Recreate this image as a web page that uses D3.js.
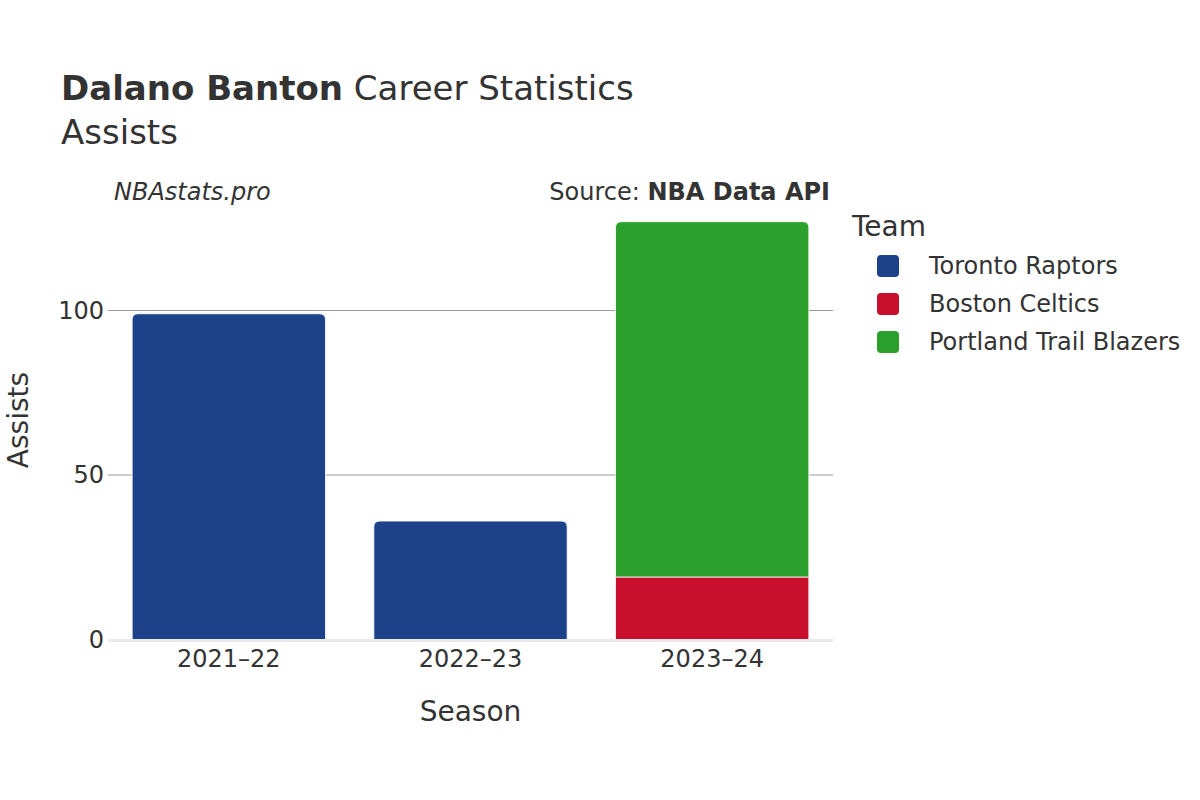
<!DOCTYPE html>
<html>
<head>
<meta charset="utf-8">
<script src="https://cdn.jsdelivr.net/npm/d3@7"></script>
<style>
  body { margin: 0; background: #fff; }
  svg { font-family: "DejaVu Sans", sans-serif; }
</style>
</head>
<body>
<svg id="chart" width="1200" height="800"></svg>
<script>
const seasons = ["2021–22", "2022–23", "2023–24"];
const teams = ["Toronto Raptors", "Boston Celtics", "Portland Trail Blazers"];
const teamColors = ["#1d428a", "#c8102e", "#2ca02c"];
const torontoValues = [99, 36, 0];
const bostonValues = [0, 0, 19];
const portlandValues = [0, 0, 108];
const yTicks = [0, 50, 100];

const svg = d3.select("#chart");
const margin = { left: 108, right: 833, top: 227, bottom: 639.5 };
const textColor = "#333";

const x = d3.scaleBand().domain(seasons).range([margin.left, margin.right]).paddingInner(0.2).paddingOuter(0.1);
const y = d3.scaleLinear().range([margin.bottom, margin.top]);
y.domain([0, 100 * (margin.bottom - margin.top) / (margin.bottom - 310.5)]);

// gridlines
const grid = svg.append("g");
yTicks.filter(d => d > 0).forEach(t => {
  grid.append("line")
    .attr("x1", margin.left).attr("x2", margin.right)
    .attr("y1", y(t)).attr("y2", y(t))
    .attr("stroke", "#999").attr("stroke-width", 1);
});

// stacked data
const series = [torontoValues, bostonValues, portlandValues];
const rows = seasons.map((s, i) => ({ season: s, v: series.map(arr => arr[i]) }));
const stack = d3.stack().keys([0, 1, 2]).value((d, k) => d.v[k]);
const stacked = stack(rows);

function roundedTopPath(x0, x1, yTop, yBot, r) {
  r = Math.min(r, (x1 - x0) / 2, (yBot - yTop));
  return `M${x0},${yBot} L${x0},${yTop + r} Q${x0},${yTop} ${x0 + r},${yTop} L${x1 - r},${yTop} Q${x1},${yTop} ${x1},${yTop + r} L${x1},${yBot} Z`;
}

const barsG = svg.append("g");
stacked.forEach((layer, k) => {
  layer.forEach((seg, i) => {
    if (seg[1] - seg[0] <= 0) return;
    const x0 = x(seasons[i]);
    const x1 = x0 + x.bandwidth();
    const yT = y(seg[1]);
    const yB = y(seg[0]);
    const total = d3.sum(rows[i].v);
    const isTop = seg[1] === total;
    barsG.append("path")
      .attr("d", roundedTopPath(x0, x1, yT, yB, isTop ? 6 : 0))
      .attr("fill", teamColors[k])
      .attr("stroke", "#fff").attr("stroke-width", 0.8);
  });
});

// zero line
svg.append("line")
  .attr("x1", margin.left).attr("x2", margin.right)
  .attr("y1", y(0) + 1).attr("y2", y(0) + 1)
  .attr("stroke", "#ebebeb").attr("stroke-width", 3);

// y axis
const yAxis = d3.axisLeft(y).tickValues(yTicks).tickSize(0).tickPadding(3);
const yg = svg.append("g").attr("transform", `translate(${margin.left - 1},0)`).call(yAxis);
yg.select(".domain").remove();
yg.selectAll("text").attr("font-size", 24).attr("fill", textColor).attr("font-family", "DejaVu Sans");

// x axis
const xAxis = d3.axisBottom(x).tickSize(0).tickPadding(10);
const xg = svg.append("g").attr("transform", `translate(0,${margin.bottom})`).call(xAxis);
xg.select(".domain").remove();
xg.selectAll("text").attr("font-size", 24).attr("fill", textColor).attr("font-family", "DejaVu Sans");

// axis titles
svg.append("text").attr("x", (margin.left + margin.right) / 2).attr("y", 721)
  .attr("text-anchor", "middle").attr("font-size", 28).attr("fill", textColor).text("Season");
svg.append("text").attr("transform", "translate(28,420) rotate(-90)")
  .attr("text-anchor", "middle").attr("font-size", 28).attr("fill", textColor).text("Assists");

// title
const title = svg.append("text").attr("x", 61).attr("y", 100).attr("font-size", 34).attr("fill", textColor);
title.append("tspan").attr("font-weight", "bold").text("Dalano Banton");
title.append("tspan").text(" Career Statistics");
svg.append("text").attr("x", 61).attr("y", 144).attr("font-size", 34).attr("fill", textColor).text("Assists");

// annotations
svg.append("text").attr("x", 114).attr("y", 200).attr("font-size", 24).attr("font-style", "italic")
  .attr("fill", textColor).text("NBAstats.pro");
const src = svg.append("text").attr("x", 830).attr("y", 200).attr("font-size", 24).attr("text-anchor", "end").attr("fill", textColor);
src.append("tspan").text("Source: ");
src.append("tspan").attr("font-weight", "bold").text("NBA Data API");

// legend
svg.append("text").attr("x", 852).attr("y", 236).attr("font-size", 28).attr("fill", textColor).text("Team");
teams.forEach((t, i) => {
  const cy = 266 + i * 38;
  svg.append("rect").attr("x", 877).attr("y", cy - 11).attr("width", 22).attr("height", 22)
    .attr("rx", 4).attr("fill", teamColors[i]);
  svg.append("text").attr("x", 929).attr("y", cy + 8).attr("font-size", 24).attr("fill", textColor).text(t);
});
</script>
</body>
</html>
